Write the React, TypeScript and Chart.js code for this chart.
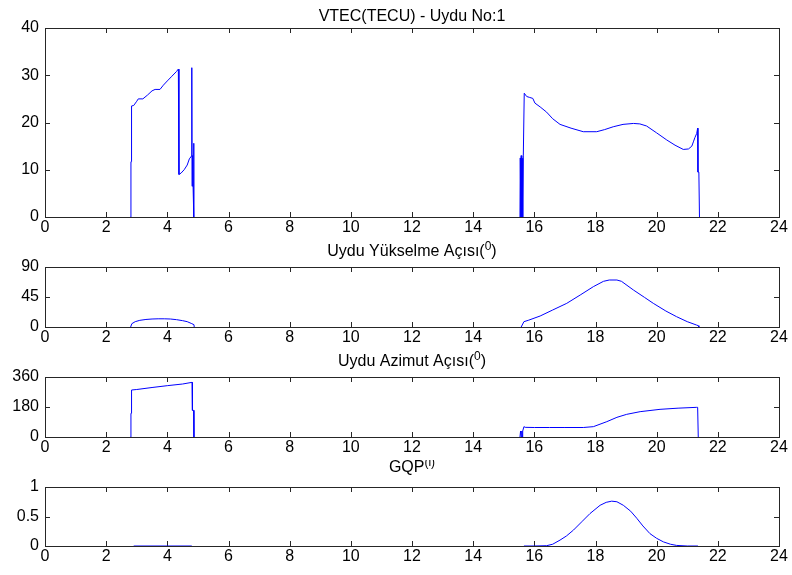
import React, { useEffect, useRef } from "react";
import { Chart, registerables } from "chart.js";

Chart.register(...registerables);

// ---------- Data ----------
const xTickValues = [0, 2, 4, 6, 8, 10, 12, 14, 16, 18, 20, 22, 24];

// VTEC (TECU)
const vtecHours = [
  2.80, 2.81, 2.82, 2.83, 2.90, 3.00, 3.05, 3.20, 3.35, 3.50, 3.60, 3.76, 3.87, 4.00, 4.15, 4.30, 4.36,
  4.38, 4.45, 4.55, 4.65, 4.72, 4.79, 4.80, 4.81, 4.82, 4.84, 4.86, 4.87,
  10.0,
  15.53, 15.54, 15.56, 15.57, 15.59, 15.60, 15.62, 15.64, 15.66, 15.67, 15.75, 15.85, 15.95, 16.02, 16.19,
  16.40, 16.60, 16.84, 17.20, 17.60, 18.04, 18.30, 18.58, 18.90, 19.24, 19.45, 19.67, 20.00, 20.33, 20.60,
  20.87, 21.04, 21.15, 21.20, 21.25, 21.31, 21.34, 21.35, 21.38, 21.40,
];
const vtecValues = [
  0, 11.7, 11.7, 23.5, 23.6, 24.5, 25.0, 25.0, 25.8, 26.7, 27.0, 27.0, 27.9, 28.8, 29.8, 30.8, 31.3,
  9.0, 9.3, 10.0, 11.0, 12.3, 12.9, 31.6, 6.5, 13.0, 7.0, 15.6, 0,
  null,
  0, 12.5, 0, 13.0, 0, 12.4, 0, 13.1, 13.1, 26.2, 25.5, 25.3, 25.1, 24.1, 23.3,
  22.2, 20.8, 19.6, 18.8, 18.05, 18.05, 18.5, 19.1, 19.6, 19.8, 19.7, 19.26, 17.8, 16.3, 15.2,
  14.3, 14.4, 15.0, 15.9, 16.8, 17.7, 18.8, 9.5, 9.5, 0,
];
const vtecTicks = [0, 10, 20, 30, 40];

// Elevation angle (deg)
const elevHours = [
  2.80, 2.84, 2.95, 3.10, 3.30, 3.50, 3.70, 3.90, 4.10, 4.30, 4.50, 4.65, 4.80, 4.87, 4.88,
  10.0,
  15.57, 15.66, 15.80, 16.19, 16.60, 17.06, 17.50, 17.93, 18.26, 18.45, 18.70, 18.85, 19.24, 19.60,
  19.89, 20.30, 20.65, 21.00, 21.30, 21.36, 21.38,
];
const elevValues = [
  0, 5.0, 8.0, 10.0, 11.3, 12.0, 12.3, 12.3, 12.0, 11.0, 9.5, 8.0, 5.0, 3.5, 0,
  null,
  0, 8, 10, 16.5, 25.5, 35.5, 48, 60.5, 68.5, 70.5, 70.5, 68.5, 55.5, 44.5,
  35.5, 24, 15.5, 8, 3, 2, 0,
];
const elevTicks = [0, 45, 90];

// Azimuth angle (deg)
const aziHours = [
  2.80, 2.81, 2.82, 2.83, 3.00, 3.50, 4.00, 4.50, 4.81, 4.82, 4.86, 4.87,
  10.0,
  15.53, 15.55, 15.57, 15.59, 15.61, 15.62, 15.66, 15.70, 16.00, 16.50, 17.00, 17.60, 17.93, 18.37,
  18.70, 19.02, 19.46, 20.11, 20.70, 21.31, 21.34, 21.36,
];
const aziValues = [
  0, 142, 142, 282, 285, 297, 308, 318, 328, 160, 160, 0,
  null,
  0, 36, 0, 36, 0, 36, 62, 58, 57, 57, 57, 57, 62, 92,
  118, 136, 152, 166, 173, 178, 178, 0,
];
const aziTicks = [0, 180, 360];

// GQP
const gqpHours = [
  2.90, 4.80,
  10.0,
  15.66, 16.00, 16.40, 16.60, 16.84, 17.05, 17.28, 17.55, 17.82, 18.15, 18.35, 18.53, 18.70, 18.91,
  19.15, 19.35, 19.55, 19.78, 20.00, 20.22, 20.45, 20.65, 21.00, 21.35,
];
const gqpValues = [
  0, 0,
  null,
  0, 0, 0.005, 0.03, 0.10, 0.17, 0.27, 0.41, 0.55, 0.69, 0.74, 0.76, 0.75, 0.69,
  0.59, 0.47, 0.34, 0.21, 0.13, 0.07, 0.03, 0.01, 0, 0,
];
const gqpTicks = [0, 0.5, 1];

// ---------- Styling helpers ----------
const FONT_FAMILY = '"Liberation Sans", Arial, Helvetica, sans-serif';
const LINE_COLOR = "#0000ff";
const AXIS_COLOR = "#262626";

type TitlePart = { text: string; sup?: boolean };

const matlabAxesPlugin = {
  id: "matlabAxes",
  beforeDatasetsDraw(chart: any) {
    const { ctx, chartArea } = chart;
    const { left, right, top, bottom } = chartArea;
    const xs = chart.scales.x;
    const ys = chart.scales.y;
    const tl = 5;
    ctx.save();
    ctx.strokeStyle = AXIS_COLOR;
    ctx.lineWidth = 1;
    ctx.beginPath();
    for (const t of xs.ticks) {
      const px = Math.round(xs.getPixelForValue(t.value)) + 0.5;
      ctx.moveTo(px, bottom);
      ctx.lineTo(px, bottom - tl);
      ctx.moveTo(px, top);
      ctx.lineTo(px, top + tl);
    }
    for (const t of ys.ticks) {
      const py = Math.round(ys.getPixelForValue(t.value)) + 0.5;
      ctx.moveTo(left, py);
      ctx.lineTo(left + tl, py);
      ctx.moveTo(right, py);
      ctx.lineTo(right - tl, py);
    }
    ctx.stroke();
    ctx.strokeRect(Math.round(left) + 0.5, Math.round(top) + 0.5, Math.round(right - left), Math.round(bottom - top));
    ctx.restore();
  },
};

const subTitlePlugin = {
  id: "subTitle",
  afterDraw(chart: any, _args: any, opts: any) {
    const parts: TitlePart[] = opts.parts || [];
    if (!parts.length) return;
    const { ctx, chartArea } = chart;
    const mainFont = `16px ${FONT_FAMILY}`;
    const supFont = `12px ${FONT_FAMILY}`;
    ctx.save();
    let total = 0;
    for (const p of parts) {
      ctx.font = p.sup ? supFont : mainFont;
      total += ctx.measureText(p.text).width;
    }
    let x = (chartArea.left + chartArea.right) / 2 - total / 2;
    const y = chartArea.top - opts.gap;
    ctx.fillStyle = "#000";
    ctx.textAlign = "left";
    ctx.textBaseline = "alphabetic";
    for (const p of parts) {
      ctx.font = p.sup ? supFont : mainFont;
      ctx.fillText(p.text, x, p.sup ? y - 6 : y);
      x += ctx.measureText(p.text).width;
    }
    ctx.restore();
  },
};

function toPoints(xs: number[], ys: (number | null)[]) {
  return xs.map((x, i) => ({ x, y: ys[i] }));
}

function makeConfig(
  xs: number[],
  ys: (number | null)[],
  yTicks: number[],
  titleParts: TitlePart[],
  titleGap: number,
  padTop: number,
  xHeight: number
): any {
  const tickFont = { family: FONT_FAMILY, size: 16 };
  return {
    type: "line",
    data: {
      datasets: [
        {
          data: toPoints(xs, ys),
          borderColor: LINE_COLOR,
          borderWidth: 1,
          pointRadius: 0,
          tension: 0,
          fill: false,
          spanGaps: false,
        },
      ],
    },
    options: {
      animation: false,
      responsive: false,
      maintainAspectRatio: false,
      events: [],
      layout: { padding: { top: padTop, right: 13, left: 0, bottom: 0 } },
      plugins: {
        legend: { display: false },
        tooltip: { enabled: false },
        title: { display: false },
        subTitle: { parts: titleParts, gap: titleGap },
      },
      scales: {
        x: {
          type: "linear",
          min: 0,
          max: 24,
          afterBuildTicks: (s: any) => {
            s.ticks = xTickValues.map((v) => ({ value: v }));
          },
          afterFit: (s: any) => {
            s.height = xHeight;
          },
          ticks: {
            autoSkip: false,
            maxRotation: 0,
            padding: 1,
            color: "#000",
            font: tickFont,
            callback: (v: any) => String(v),
          },
          grid: { display: false, drawTicks: false },
          border: { display: false },
        },
        y: {
          type: "linear",
          min: yTicks[0],
          max: yTicks[yTicks.length - 1],
          afterBuildTicks: (s: any) => {
            s.ticks = yTicks.map((v) => ({ value: v }));
          },
          afterFit: (s: any) => {
            s.width = 45;
          },
          ticks: {
            autoSkip: false,
            padding: 6,
            color: "#000",
            font: tickFont,
            callback: (v: any) => String(v),
          },
          grid: { display: false, drawTicks: false },
          border: { display: false },
        },
      },
    },
    plugins: [matlabAxesPlugin, subTitlePlugin],
  };
}

type PanelSpec = {
  top: number;
  height: number;
  config: any;
};

function Panel({ spec }: { spec: PanelSpec }) {
  const ref = useRef<HTMLCanvasElement | null>(null);
  useEffect(() => {
    if (!ref.current) return;
    const chart = new Chart(ref.current, spec.config);
    return () => chart.destroy();
  }, [spec]);
  return (
    <canvas
      ref={ref}
      width={792}
      height={spec.height}
      style={{ position: "absolute", left: 0, top: spec.top, width: 792, height: spec.height }}
    />
  );
}

const panels: PanelSpec[] = [
  {
    top: 0,
    height: 240,
    config: makeConfig(vtecHours, vtecValues, vtecTicks, [{ text: "VTEC(TECU) - Uydu No:1" }], 7, 28, 23),
  },
  {
    top: 240,
    height: 110,
    config: makeConfig(
      elevHours,
      elevValues,
      elevTicks,
      [{ text: "Uydu Yükselme Açısı(" }, { text: "0", sup: true }, { text: ")" }],
      11,
      27,
      23
    ),
  },
  {
    top: 350,
    height: 110,
    config: makeConfig(
      aziHours,
      aziValues,
      aziTicks,
      [{ text: "Uydu Azimut Açısı(" }, { text: "0", sup: true }, { text: ")" }],
      11,
      27,
      23
    ),
  },
  {
    top: 460,
    height: 115,
    config: makeConfig(gqpHours, gqpValues, gqpTicks, [{ text: "GQP" }, { text: "(i)", sup: true }], 15, 27, 29),
  },
];

export default function App() {
  return (
    <div style={{ position: "absolute", left: 0, top: 0, width: 792, height: 575, background: "#fff" }}>
      {panels.map((p, i) => (
        <Panel key={i} spec={p} />
      ))}
    </div>
  );
}
